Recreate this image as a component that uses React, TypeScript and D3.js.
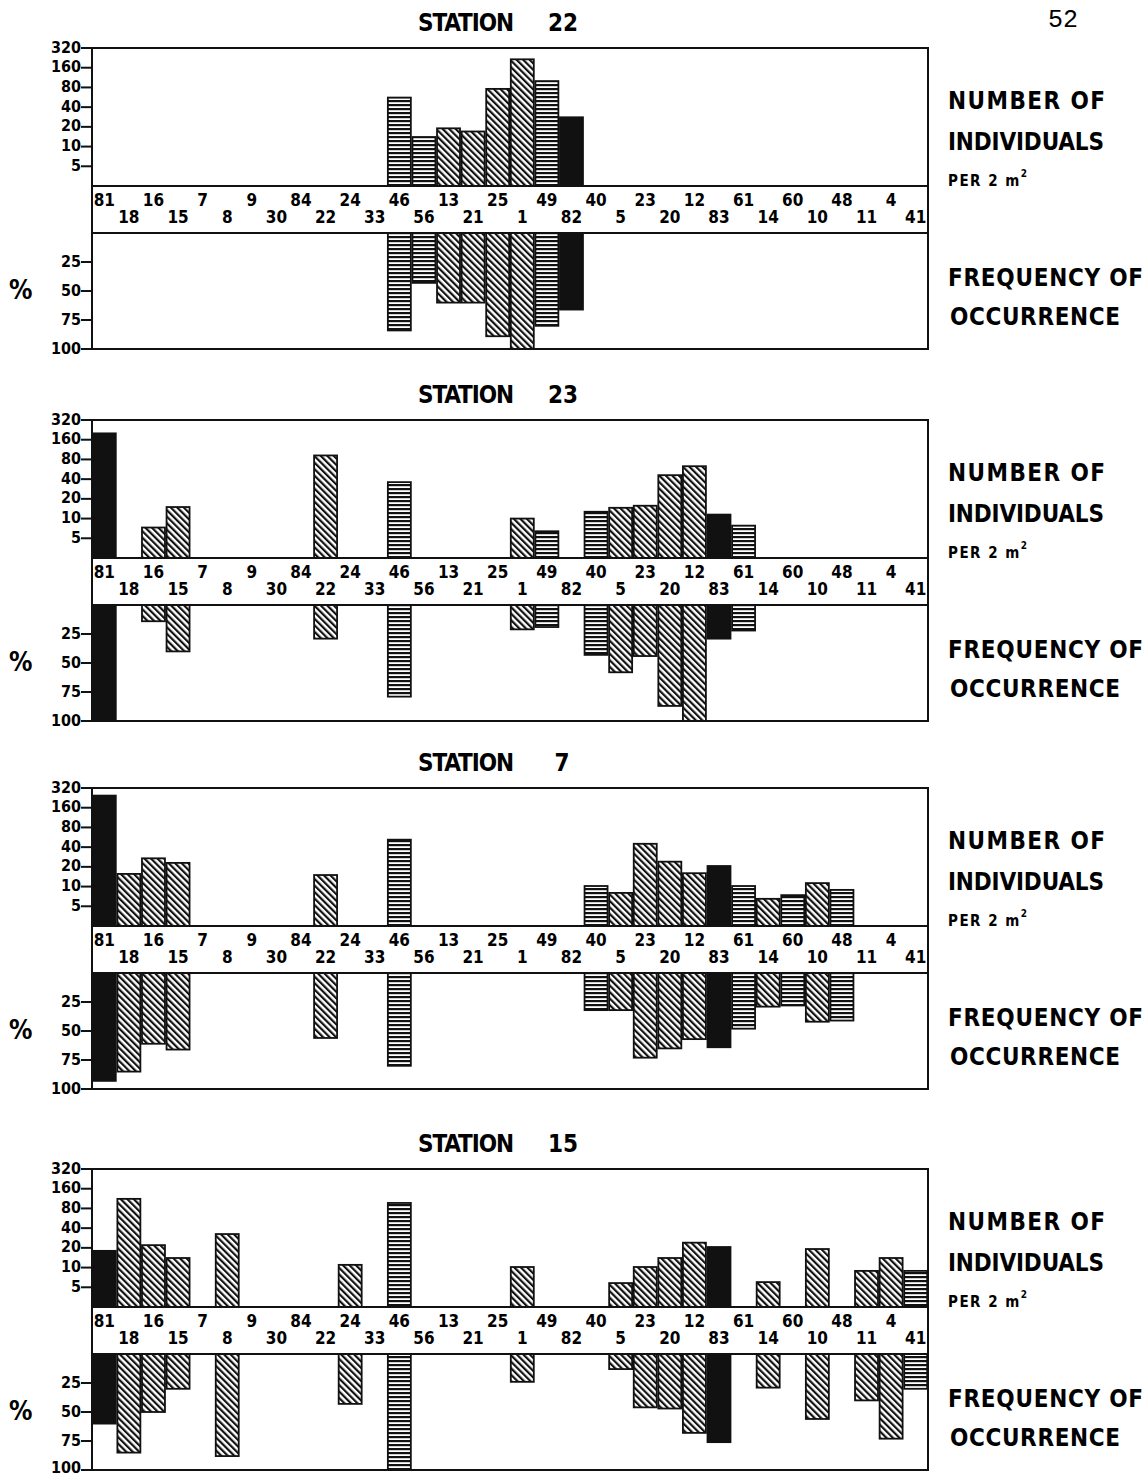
import React from "react";
import * as d3 from "d3";

// species order along the middle band
const species = ["81","18","16","15","7","8","9","30","84","22","24","33","46","56","13","21","25","1","49","82","40","5","23","20","12","83","61","14","60","10","48","11","4","41"];
const blackSpecies = ["81","82","83"];
const stripeSpecies = ["46","56","49","40","61","60","48","41"];

const countTicks = [5, 10, 20, 40, 80, 160, 320];
const freqTicks = [25, 50, 75, 100];

const st22Species = ["46","56","13","21","25","1","49","82"];
const st22Count = [56, 14, 19, 17, 76, 215, 100, 28];
const st22Freq = [84, 43, 60, 60, 89, 100, 80, 66];

const st23Species = ["81","16","15","22","46","1","49","40","5","23","20","12","83","61"];
const st23Count = [200, 7.3, 15, 92, 36, 10, 6.4, 12.7, 14.6, 15.7, 46, 63, 11.5, 7.8];
const st23Freq = [100, 14, 40, 29, 79, 21, 19, 43, 58, 44, 87, 100, 29, 22];

const st7Species = ["81","18","16","15","22","46","40","5","23","20","12","83","61","14","60","10","48"];
const st7Count = [245, 15.6, 27, 23, 15, 52, 10.2, 8, 45, 24, 16, 20.6, 10.2, 6.5, 7.4, 11.3, 8.9];
const st7Freq = [93, 85, 61, 66, 56, 80, 32, 32, 73, 65, 57, 64, 48, 29, 28, 42, 41];

const st15Species = ["81","18","16","15","8","24","46","1","5","23","20","12","83","14","10","11","4","41"];
const st15Count = [18, 112, 22, 14, 32.5, 11, 97, 10.2, 5.8, 10.2, 14, 24, 20.6, 6, 19.2, 8.9, 14, 8.9];
const st15Freq = [60, 85, 50, 30, 88, 43, 100, 24, 13, 46, 47, 68, 76, 29, 56, 40, 73, 30];

const stations = [
  { name: "22", top: 48, keys: st22Species, counts: st22Count, freq: st22Freq },
  { name: "23", top: 420, keys: st23Species, counts: st23Count, freq: st23Freq },
  { name: "7", top: 788, keys: st7Species, counts: st7Count, freq: st7Freq },
  { name: "15", top: 1169, keys: st15Species, counts: st15Count, freq: st15Freq },
];

const W = 1147, H = 1476;
const boxLeft = 92, boxRight = 928;
const font = "'DejaVu Sans Condensed', 'DejaVu Sans', sans-serif";

const fillFor = (k: string) =>
  blackSpecies.includes(k) ? "#111" : stripeSpecies.includes(k) ? "url(#hstripe)" : "url(#diag)";

const Panel = ({ name, top, keys, counts, freq }: any) => {
  const bandTop = top + 138, bandBottom = bandTop + 47, bottom = bandBottom + 116;
  const x = d3.scaleBand().domain(species).range([boxLeft, boxRight]);
  const yCount = d3.scaleLog().domain([2.5, 320]).range([bandTop, top]);
  const yFreq = d3.scaleLinear().domain([0, 100]).range([bandBottom, bottom]);
  const bw = x.bandwidth();

  return (
    <g>
      <text x={418} y={top - 24} fontSize={24} fontWeight="bold" fontFamily={font}
        dominantBaseline="middle" textLength={96}>STATION</text>
      <text x={name.length > 1 ? 563 : 562} y={top - 24} fontSize={24} fontWeight="bold" fontFamily={font}
        dominantBaseline="middle" textAnchor="middle">{name}</text>

      {keys.map((k: string, i: number) => (
        <rect key={"c" + k} x={x(k)! + 0.8} width={bw - 1.6}
          y={yCount(counts[i])} height={bandTop - yCount(counts[i])}
          fill={fillFor(k)} stroke="#111" strokeWidth={1.8} />
      ))}
      {keys.map((k: string, i: number) => (
        <rect key={"f" + k} x={x(k)! + 0.8} width={bw - 1.6}
          y={bandBottom} height={yFreq(freq[i]) - bandBottom}
          fill={fillFor(k)} stroke="#111" strokeWidth={1.8} />
      ))}

      <rect x={boxLeft} y={bandTop} width={boxRight - boxLeft} height={bandBottom - bandTop}
        fill="white" stroke="#111" strokeWidth={2} />
      {species.map((k, i) => (
        <text key={"l" + k} x={x(k)! + bw / 2} y={bandTop + (i % 2 === 0 ? 15 : 32)}
          fontSize={17} fontWeight="bold" fontFamily={font} textAnchor="middle"
          dominantBaseline="middle">{k}</text>
      ))}

      <rect x={boxLeft} y={top} width={boxRight - boxLeft} height={bottom - top}
        fill="none" stroke="#111" strokeWidth={2} />

      {countTicks.map((t) => (
        <g key={"ct" + t}>
          <line x1={boxLeft - 11} x2={boxLeft} y1={yCount(t)} y2={yCount(t)} stroke="#111" strokeWidth={2} />
          <text x={boxLeft - 11} y={yCount(t)} fontSize={16} fontWeight="bold" fontFamily={font}
            textAnchor="end" dominantBaseline="middle">{t}</text>
        </g>
      ))}
      {freqTicks.map((t) => (
        <g key={"ft" + t}>
          <line x1={boxLeft - 11} x2={boxLeft} y1={yFreq(t)} y2={yFreq(t)} stroke="#111" strokeWidth={2} />
          <text x={boxLeft - 11} y={Math.min(yFreq(t), H - 8)} fontSize={16} fontWeight="bold" fontFamily={font}
            textAnchor="end" dominantBaseline="middle">{t}</text>
        </g>
      ))}
      <text x={9} y={yFreq(50)} fontSize={26} fontWeight="bold" fontFamily={font}
        dominantBaseline="middle">%</text>

      <g fontFamily={font} fontWeight="bold" fontSize={24}>
        <text x={948} y={top + 54} dominantBaseline="middle" textLength={157}>NUMBER  OF</text>
        <text x={948} y={top + 95} dominantBaseline="middle" textLength={156}>INDIVIDUALS</text>
        <text x={948} y={top + 133} fontSize={15} dominantBaseline="middle" letterSpacing={1.5}>
          PER 2 m<tspan fontSize={10} dy={-7}>2</tspan>
        </text>
        <text x={948} y={top + 231} dominantBaseline="middle" textLength={195}>FREQUENCY OF</text>
        <text x={950} y={top + 270} dominantBaseline="middle" textLength={170}>OCCURRENCE</text>
      </g>
    </g>
  );
};

export default function App() {
  return (
    <svg width={W} height={H} style={{ position: "absolute", left: 0, top: 0, background: "white" }}>
      <defs>
        <pattern id="diag" patternUnits="userSpaceOnUse" width={4.6} height={4.6} patternTransform="rotate(-45)">
          <rect width={4.6} height={4.6} fill="white" />
          <rect width={2.2} height={4.6} fill="#111" />
        </pattern>
        <pattern id="hstripe" patternUnits="userSpaceOnUse" width={4} height={4}>
          <rect width={4} height={4} fill="white" />
          <rect width={4} height={2.2} fill="#111" />
        </pattern>
      </defs>
      <rect width={W} height={H} fill="white" />
      <text x={1048} y={20} fontSize={25} fontFamily="'Liberation Mono', monospace" dominantBaseline="middle">52</text>
      {stations.map((s) => (
        <Panel key={s.name} {...s} />
      ))}
    </svg>
  );
}
